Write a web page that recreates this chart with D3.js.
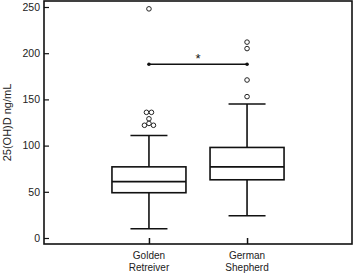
<!DOCTYPE html>
<html>
<head>
<meta charset="utf-8">
<script src="https://cdn.jsdelivr.net/npm/d3@7"></script>
<style>
  body { margin: 0; background: #fff; }
  svg { display: block; }
</style>
</head>
<body>
<div id="container"></div>
<script>
/* CONSTANTS AND GLOBALS */
const width = 354;
const height = 274;
const margin = { top: 1, right: 2, bottom: 30, left: 44 };

/* DATA */
const breeds = ["Golden Retreiver", "German Shepherd"];
const breedLines = [["Golden", "Retreiver"], ["German", "Shepherd"]];
// [lower whisker, q1, median, q3, upper whisker]
const whiskLow = [10, 24];
const q1 = [49, 63];
const medians = [61, 77];
const q3 = [77, 98];
const whiskHigh = [111, 145];
// outliers: breed index, value, small horizontal nudge (as drawn)
const outlierBreed = [0, 0, 0, 0, 0, 0, 0, 1, 1, 1, 1];
const outlierValue = [248, 136, 136, 129, 124, 122, 122, 212, 205, 171, 153];
const outlierNudge = [0, -2.5, 2.5, 0, 0, -4.5, 4.5, 0, 0, 0, 0];
const yTicks = [0, 50, 100, 150, 200, 250];
const sigValue = 188;

/* SCALES */
const xScale = d3.scalePoint()
  .domain(breeds)
  .range([margin.left, width - margin.right])
  .padding(1.07);

const yScale = d3.scaleLinear()
  .domain([-6.5, 256.5])
  .range([height - margin.bottom, margin.top]);

const boxW = 74, capW = 37;

/* SVG */
const svg = d3.select("#container")
  .append("svg")
  .attr("width", width)
  .attr("height", height);

// y axis, ticks inward
const yAxis = d3.axisRight(yScale).tickValues(yTicks).tickSize(5).tickFormat(d3.format("d"));
const gy = svg.append("g")
  .attr("transform", `translate(${margin.left},0)`)
  .call(yAxis);
gy.select(".domain").remove();
gy.selectAll("line").attr("stroke", "#111").attr("stroke-width", 1.2);
gy.selectAll("text")
  .attr("x", -4)
  .attr("text-anchor", "end")
  .attr("font-family", "Liberation Sans, Arial, sans-serif")
  .attr("font-size", 10.5)
  .attr("fill", "#222");

// x axis ticks inward
const xAxis = d3.axisTop(xScale).tickSize(6).tickFormat("");
const gx = svg.append("g")
  .attr("transform", `translate(0,${height - margin.bottom})`)
  .call(xAxis);
gx.select(".domain").remove();
gx.selectAll("line").attr("stroke", "#111").attr("stroke-width", 1.5);

// category labels, two lines each
breeds.forEach((b, i) => {
  svg.selectAll(null)
    .data(breedLines[i])
    .join("text")
    .attr("x", xScale(b))
    .attr("y", (d, j) => height - margin.bottom + 15 + j * 12)
    .attr("text-anchor", "middle")
    .attr("font-family", "Liberation Sans, Arial, sans-serif")
    .attr("font-size", 10)
    .attr("fill", "#222")
    .text(d => d);
});

// frame
svg.append("rect")
  .attr("x", margin.left)
  .attr("y", margin.top)
  .attr("width", width - margin.left - margin.right)
  .attr("height", height - margin.top - margin.bottom)
  .attr("fill", "none")
  .attr("stroke", "#111")
  .attr("stroke-width", 1.6);

// y label
svg.append("text")
  .attr("transform", `translate(11,${(margin.top + height - margin.bottom) / 2}) rotate(-90)`)
  .attr("text-anchor", "middle")
  .attr("font-family", "Liberation Sans, Arial, sans-serif")
  .attr("font-size", 11)
  .attr("fill", "#222")
  .text("25(OH)D ng/mL");

// boxes
const boxes = svg.append("g").attr("stroke", "#111").attr("stroke-width", 1.6).attr("fill", "none");
breeds.forEach((b, i) => {
  const cx = xScale(b);
  boxes.append("line")
    .attr("x1", cx).attr("x2", cx)
    .attr("y1", yScale(whiskLow[i])).attr("y2", yScale(q1[i]));
  boxes.append("line")
    .attr("x1", cx).attr("x2", cx)
    .attr("y1", yScale(q3[i])).attr("y2", yScale(whiskHigh[i]));
  boxes.append("line")
    .attr("x1", cx - capW / 2).attr("x2", cx + capW / 2)
    .attr("y1", yScale(whiskLow[i])).attr("y2", yScale(whiskLow[i]));
  boxes.append("line")
    .attr("x1", cx - capW / 2).attr("x2", cx + capW / 2)
    .attr("y1", yScale(whiskHigh[i])).attr("y2", yScale(whiskHigh[i]));
  boxes.append("rect")
    .attr("x", cx - boxW / 2)
    .attr("y", yScale(q3[i]))
    .attr("width", boxW)
    .attr("height", yScale(q1[i]) - yScale(q3[i]));
  boxes.append("line")
    .attr("x1", cx - boxW / 2).attr("x2", cx + boxW / 2)
    .attr("y1", yScale(medians[i])).attr("y2", yScale(medians[i]));
});

// outliers
svg.append("g")
  .selectAll("circle")
  .data(outlierValue)
  .join("circle")
  .attr("cx", (d, i) => xScale(breeds[outlierBreed[i]]) + outlierNudge[i])
  .attr("cy", d => yScale(d))
  .attr("r", 2.3)
  .attr("fill", "#fff")
  .attr("stroke", "#222")
  .attr("stroke-width", 1);

// significance bar
const sx1 = xScale(breeds[0]), sx2 = xScale(breeds[1]), sy = yScale(sigValue);
svg.append("line")
  .attr("x1", sx1).attr("x2", sx2)
  .attr("y1", sy).attr("y2", sy)
  .attr("stroke", "#111").attr("stroke-width", 1.4);
svg.selectAll(".sigdot")
  .data([sx1, sx2])
  .join("circle")
  .attr("cx", d => d).attr("cy", sy).attr("r", 1.8).attr("fill", "#111");
svg.append("text")
  .attr("x", (sx1 + sx2) / 2)
  .attr("y", sy - 1)
  .attr("text-anchor", "middle")
  .attr("font-family", "Liberation Sans, Arial, sans-serif")
  .attr("font-size", 13)
  .attr("fill", "#111")
  .text("*");
</script>
</body>
</html>
